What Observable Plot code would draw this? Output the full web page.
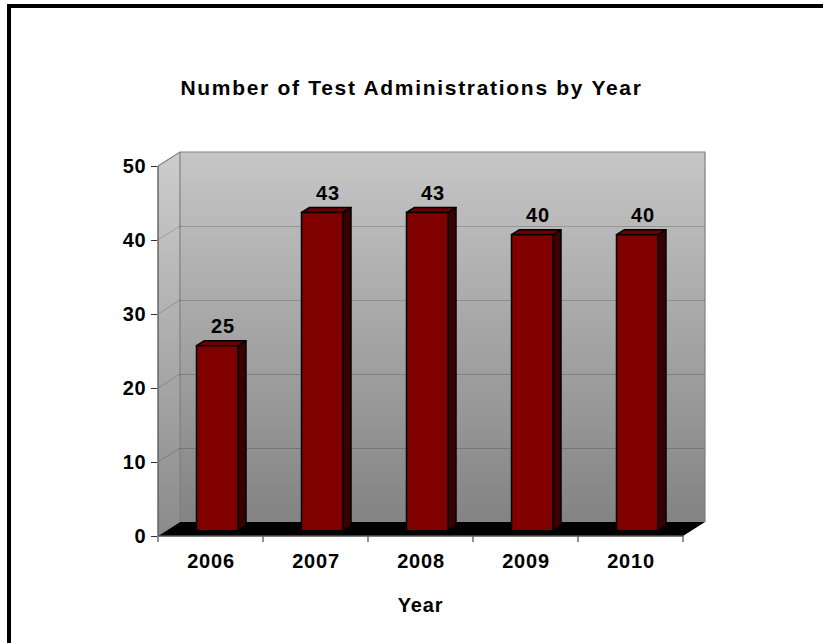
<!DOCTYPE html>
<html><head><meta charset="utf-8">
<script src="https://cdn.jsdelivr.net/npm/d3@7"></script>
<script src="https://cdn.jsdelivr.net/npm/@observablehq/plot@0.6"></script>
<style>
html,body{margin:0;padding:0;background:#fff;overflow:hidden;}
#wrap{position:relative;width:823px;height:643px;overflow:hidden;font-family:Arial,"Liberation Sans",sans-serif;}
#frame{position:absolute;left:7px;top:4px;width:900px;height:700px;border:none;border-left:4px solid #000;border-top:4px solid #000;box-sizing:border-box;}
#title{position:absolute;left:0;top:76px;width:823px;text-align:center;font-weight:bold;font-size:21px;letter-spacing:1.7px;line-height:24px;color:#000;}
#chart{position:absolute;left:0;top:110px;}
</style></head><body>
<div id="wrap"><div id="frame"></div><div id="title"></div><div id="chart"></div></div>
<script>
// ---- data ----
const titleText = "Number of Test Administrations by Year";
const xLabel = "Year";
const years = ["2006", "2007", "2008", "2009", "2010"];
const counts = [25, 43, 43, 40, 40];
const yTicks = [0, 10, 20, 30, 40, 50];

const table = years.map((year, i) => ({year, count: counts[i]}));

// ---- style constants ----
const WALL_DX = 22, WALL_DY = -14;   // depth of the 3-D walls
const BAR_DX = 6.5, BAR_DY = -5.3;   // front face offset of bars
const DEPTH_DX = 8, DEPTH_DY = -5;   // thickness of bars
const INSET_L = 32, INSET_R = 31.5;
const FONT = "Arial, 'Liberation Sans', sans-serif";

document.getElementById("title").textContent = titleText;

function poly(g, pts, attrs) {
  const p = g.append("polygon").attr("points", pts.map(p => p.join(",")).join(" "));
  for (const k in attrs) p.attr(k, attrs[k]);
  return p;
}
function line(g, a, b, attrs) {
  const l = g.append("line").attr("x1", a[0]).attr("y1", a[1]).attr("x2", b[0]).attr("y2", b[1]);
  for (const k in attrs) l.attr(k, attrs[k]);
  return l;
}

// walls + floor
function scene(index, scales) {
  const {x, y} = scales;
  const step = x(years[1]) - x(years[0]);
  const x0 = x(years[0]), x1 = x(years[years.length - 1]) + step;
  const top = y(d3.max(yTicks)), bot = y(0);
  const g = d3.create("svg:g");
  const defs = g.append("defs");
  const gb = defs.append("linearGradient").attr("id", "gBack").attr("x1", 0).attr("y1", 0).attr("x2", 0).attr("y2", 1);
  gb.append("stop").attr("offset", 0).attr("stop-color", "#c6c6c6");
  gb.append("stop").attr("offset", 1).attr("stop-color", "#838383");
  const gl = defs.append("linearGradient").attr("id", "gLeft").attr("x1", 0).attr("y1", 0).attr("x2", 0).attr("y2", 1);
  gl.append("stop").attr("offset", 0).attr("stop-color", "#cdcdcd");
  gl.append("stop").attr("offset", 1).attr("stop-color", "#8b8b8b");
  // left wall
  poly(g, [[x0, top], [x0 + WALL_DX, top + WALL_DY], [x0 + WALL_DX, bot + WALL_DY], [x0, bot]], {fill: "url(#gLeft)"});
  // back wall
  poly(g, [[x0 + WALL_DX, top + WALL_DY], [x1 + WALL_DX, top + WALL_DY], [x1 + WALL_DX, bot + WALL_DY], [x0 + WALL_DX, bot + WALL_DY]], {fill: "url(#gBack)"});
  // left wall grid diagonals
  for (const v of yTicks.slice(1, -1)) {
    line(g, [x0, y(v)], [x0 + WALL_DX, y(v) + WALL_DY], {stroke: "#000", "stroke-opacity": 0.18});
  }
  // wall edges
  g.append("polyline")
    .attr("points", [[x0, top], [x0 + WALL_DX, top + WALL_DY], [x1 + WALL_DX, top + WALL_DY], [x1 + WALL_DX, bot + WALL_DY]].map(p => p.join(",")).join(" "))
    .attr("stroke", "#808080").attr("stroke-width", 1.2).attr("fill", "none");
  line(g, [x0 + WALL_DX, top + WALL_DY], [x0 + WALL_DX, bot + WALL_DY], {stroke: "#808080", "stroke-width": 1.2});
  // floor
  poly(g, [[x0, bot], [x1, bot], [x1 + WALL_DX, bot + WALL_DY], [x0 + WALL_DX, bot + WALL_DY]], {fill: "#000"});
  return g.node();
}

// bar sides and tops
function barDepth(index, scales) {
  const {x, y} = scales;
  const step = x(years[1]) - x(years[0]);
  const g = d3.create("svg:g");
  table.forEach(d => {
    const xl = x(d.year) + INSET_L + BAR_DX;
    const xr = x(d.year) + step - INSET_R + BAR_DX;
    const yt = y(d.count) + BAR_DY, yb = y(0) + BAR_DY;
    const st = {stroke: "#000", "stroke-width": 1.5, "stroke-linejoin": "round"};
    poly(g, [[xr, yt], [xr + DEPTH_DX, yt + DEPTH_DY], [xr + DEPTH_DX, yb + DEPTH_DY], [xr, yb]], {fill: "#3a0000", ...st});
    poly(g, [[xl, yt], [xl + DEPTH_DX, yt + DEPTH_DY], [xr + DEPTH_DX, yt + DEPTH_DY], [xr, yt]], {fill: "#6a0000", ...st});
  });
  return g.node();
}

// axis lines + boundary ticks
function axisLines(index, scales) {
  const {x, y} = scales;
  const step = x(years[1]) - x(years[0]);
  const x0 = x(years[0]), x1 = x(years[years.length - 1]) + step;
  const top = y(d3.max(yTicks)), bot = y(0);
  const g = d3.create("svg:g");
  const st = {stroke: "#555", "stroke-width": 1.3};
  line(g, [x0, top], [x0, bot], st);
  line(g, [x0, bot], [x1, bot], st);
  for (let k = 0; k <= years.length; k++) {
    const xx = x0 + k * step;
    line(g, [xx, bot], [xx, bot + 6], st);
  }
  return g.node();
}

const chart = Plot.plot({
  width: 823,
  height: 533,
  marginLeft: 157,
  marginRight: 140,
  marginTop: 56,
  marginBottom: 107,
  style: {fontFamily: FONT, fontSize: "20px", fontWeight: "bold", letterSpacing: "0.8px", color: "#000", background: "transparent", overflow: "visible"},
  x: {domain: years, padding: 0},
  y: {domain: [0, 50]},
  marks: [
    scene,
    Plot.ruleY(yTicks.slice(1, -1), {stroke: "#000", strokeOpacity: 0.18, dx: WALL_DX, dy: WALL_DY}),
    barDepth,
    Plot.barY(table, {x: "year", y: "count", fill: "#800000", stroke: "#000", strokeWidth: 1.5,
      insetLeft: INSET_L, insetRight: INSET_R, dx: BAR_DX, dy: BAR_DY}),
    Plot.text(table, {x: "year", y: "count", text: d => String(d.count), dx: 12, dy: -18.5,
      lineAnchor: "bottom", fontSize: 20, fontWeight: "bold", fill: "#000"}),
    Plot.axisY({ticks: yTicks, tickSize: 6, tickPadding: 5, label: null, fontSize: 20, fontWeight: "bold", stroke: "#333"}),
    Plot.axisX({tickSize: 0, tickPadding: 17.5, label: xLabel, labelAnchor: "center", labelOffset: 75, fontSize: 20, fontWeight: "bold"}),
    axisLines
  ]
});
document.getElementById("chart").appendChild(chart);
</script>
</body></html>
